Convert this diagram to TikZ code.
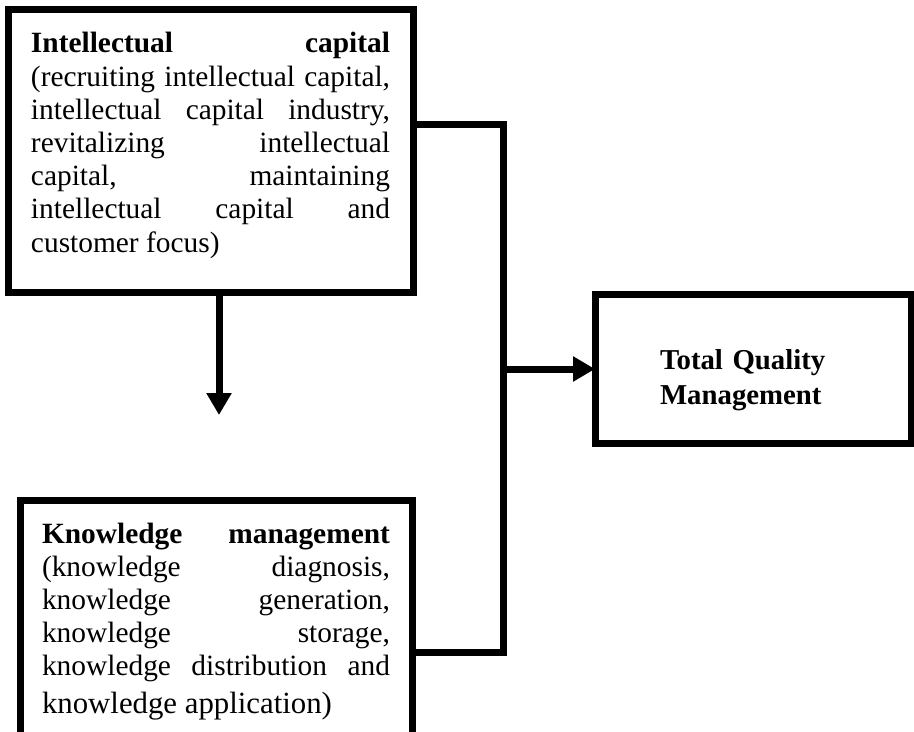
\documentclass[tikz,border=0pt]{standalone}
\usepackage{fontspec}
\setmainfont{Liberation Serif}
\usetikzlibrary{arrows.meta}
\tolerance=10000
\hbadness=10000

\begin{document}
\begin{tikzpicture}[x=0.5pt, y=-0.5pt, line width=3.5pt,
    font=\fontsize{14.7}{16.6}\selectfont,
    box/.style={draw, rectangle, inner ysep=0pt, outer sep=0pt,
                align=justify, anchor=north west},
    link/.style={line join=miter},
    arrow/.style={-{Triangle[width=12pt,length=11pt]}}]
  \useasboundingbox (0,0) rectangle (914,732);
  \node[box, inner xsep=11.5pt, text width=179.5pt,
        text height=21.5pt, text depth=120pt] (ic) at (8,10)
    {\textbf{Intellectual capital}\linebreak
     (recruiting intellectual capital,\linebreak
     intellectual capital industry,\linebreak
     revitalizing intellectual\linebreak
     capital, maintaining\linebreak
     intellectual capital and\linebreak
     customer focus)};
  \node[box, inner xsep=11pt, text width=174pt,
        text height=21.5pt, text depth=110pt] (km) at (20,500)
    {\textbf{Knowledge management}\linebreak
     (knowledge diagnosis,\linebreak
     knowledge generation,\linebreak
     knowledge storage,\linebreak
     knowledge distribution and\vspace{2pt}\linebreak
     {\fontsize{15.4}{16.6}\selectfont knowledge application)}};
  \node[box, align=left, inner xsep=32.5pt, text width=93pt,
        text height=37pt, text depth=37pt,
        font=\fontsize{14.4}{17.5}\selectfont\bfseries] (tqm) at (595,295)
    {Total Quality\\Management};
  \coordinate (tip) at (219,415);
  \coordinate (bt) at (503,125);
  \coordinate (bb) at (503,652);
  \draw[arrow] (ic.south -| tip) -- (tip);
  \draw[link] (ic.east |- bt) -- (bt) -- (bb) -- (km.east |- bb);
  \draw[arrow] (bt |- tqm.west) -- (tqm.west);
\end{tikzpicture}
\end{document}
